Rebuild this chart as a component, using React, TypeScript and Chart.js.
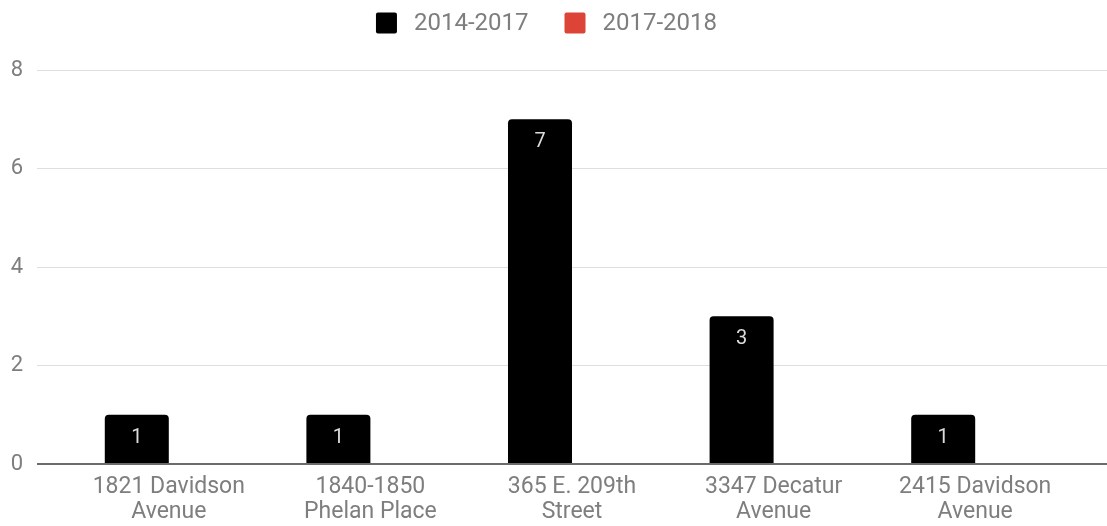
import React, { useEffect, useRef } from 'react';
import { Chart, registerables } from 'chart.js';

Chart.register(...registerables);

// ---- data ----
const categories: string[][] = [
  ['1821 Davidson', 'Avenue'],
  ['1840-1850', 'Phelan Place'],
  ['365 E. 209th', 'Street'],
  ['3347 Decatur', 'Avenue'],
  ['2415 Davidson', 'Avenue'],
];
const seriesNames = ['2014-2017', '2017-2018'];
const values2014to2017 = [1, 1, 7, 3, 1];
const values2017to2018 = [0, 0, 0, 0, 0];
const yMin = 0;
const yMax = 8;
const yStep = 2;

// ---- styles ----
const FONT = 'Roboto, "Noto Sans", Arial, sans-serif';
const TEXT = '#7e7e7e';
const GRID = '#dedede';
const ZERO = '#6a6a6a';
const COLORS = ['#000000', '#db4437'];

const gridColor = (c: any) => (c.tick && c.tick.value === 0 ? ZERO : GRID);
const gridWidth = (c: any) => (c.tick && c.tick.value === 0 ? 2 : 1);

const barLabelPlugin = {
  id: 'barLabels',
  afterDatasetsDraw(chart: any) {
    const ctx = chart.ctx;
    ctx.save();
    ctx.font = `20px ${FONT}`;
    ctx.fillStyle = '#dcdcdc';
    ctx.textAlign = 'center';
    ctx.textBaseline = 'middle';
    chart.data.datasets.forEach((ds: any, i: number) => {
      const meta = chart.getDatasetMeta(i);
      meta.data.forEach((bar: any, j: number) => {
        const v = ds.data[j];
        if (!v) return;
        ctx.fillText(String(v), bar.x, bar.y + 23);
      });
    });
    ctx.restore();
  },
};

const legendPlugin = {
  id: 'customLegend',
  afterDraw(chart: any) {
    const ctx = chart.ctx;
    const box = 21;
    const gapText = 17;
    const gapItem = 36;
    const fontSize = 24;
    ctx.save();
    ctx.font = `${fontSize}px ${FONT}`;
    const items = chart.data.datasets.map((ds: any) => ({
      text: ds.label,
      color: ds.backgroundColor,
      w: ctx.measureText(ds.label).width,
    }));
    const total =
      items.reduce((s: number, it: any) => s + box + gapText + it.w, 0) +
      gapItem * (items.length - 1);
    let x = chart.width / 2 - 7 - total / 2;
    const cy = 23;
    ctx.textBaseline = 'middle';
    ctx.textAlign = 'left';
    items.forEach((it: any) => {
      ctx.fillStyle = it.color;
      ctx.beginPath();
      ctx.roundRect(x, cy - box / 2, box, box, 2);
      ctx.fill();
      ctx.fillStyle = TEXT;
      ctx.fillText(it.text, x + box + gapText, cy + 1);
      x += box + gapText + it.w + gapItem;
    });
    ctx.restore();
  },
};

export default function App() {
  const ref = useRef<HTMLCanvasElement | null>(null);

  useEffect(() => {
    if (!ref.current) return;
    const chart = new Chart(ref.current, {
      type: 'bar',
      data: {
        labels: categories as any,
        datasets: [
          {
            label: seriesNames[0],
            data: values2014to2017,
            backgroundColor: COLORS[0],
            borderRadius: 4,
            categoryPercentage: 0.635,
            barPercentage: 1,
          },
          {
            label: seriesNames[1],
            data: values2017to2018,
            backgroundColor: COLORS[1],
            borderRadius: 4,
            categoryPercentage: 0.635,
            barPercentage: 1,
          },
        ],
      },
      options: {
        animation: false,
        responsive: false,
        maintainAspectRatio: false,
        layout: { padding: { top: 70, left: 0, right: 0, bottom: 0 } },
        plugins: {
          legend: { display: false },
          tooltip: { enabled: false },
        },
        scales: {
          x: {
            grid: { display: false, drawTicks: false },
            border: { display: false },
            ticks: {
              color: TEXT,
              font: { family: FONT, size: 23, lineHeight: 1.09 },
              padding: 11,
              maxRotation: 0,
              autoSkip: false,
            },
            afterFit(s: any) {
              s.height = 62;
            },
          },
          y: {
            min: yMin,
            max: yMax,
            ticks: {
              stepSize: yStep,
              color: TEXT,
              font: { family: FONT, size: 22 },
              padding: 14,
            },
            grid: {
              color: gridColor,
              lineWidth: gridWidth,
              drawTicks: true,
              tickLength: 31,
            },
            border: { display: false },
            afterFit(s: any) {
              s.width = 68;
            },
          },
          y2: {
            position: 'right',
            min: yMin,
            max: yMax,
            ticks: { stepSize: yStep, display: false },
            grid: {
              drawOnChartArea: false,
              color: gridColor,
              lineWidth: gridWidth,
              drawTicks: true,
              tickLength: 31,
            },
            border: { display: false },
            afterFit(s: any) {
              s.width = 31;
            },
          },
        },
      } as any,
      plugins: [barLabelPlugin, legendPlugin],
    });
    return () => chart.destroy();
  }, []);

  return (
    <div style={{ position: 'absolute', left: 0, top: 0, width: 1107, height: 526, background: '#fff' }}>
      <canvas ref={ref} width={1107} height={526} style={{ width: 1107, height: 526 }} />
    </div>
  );
}
